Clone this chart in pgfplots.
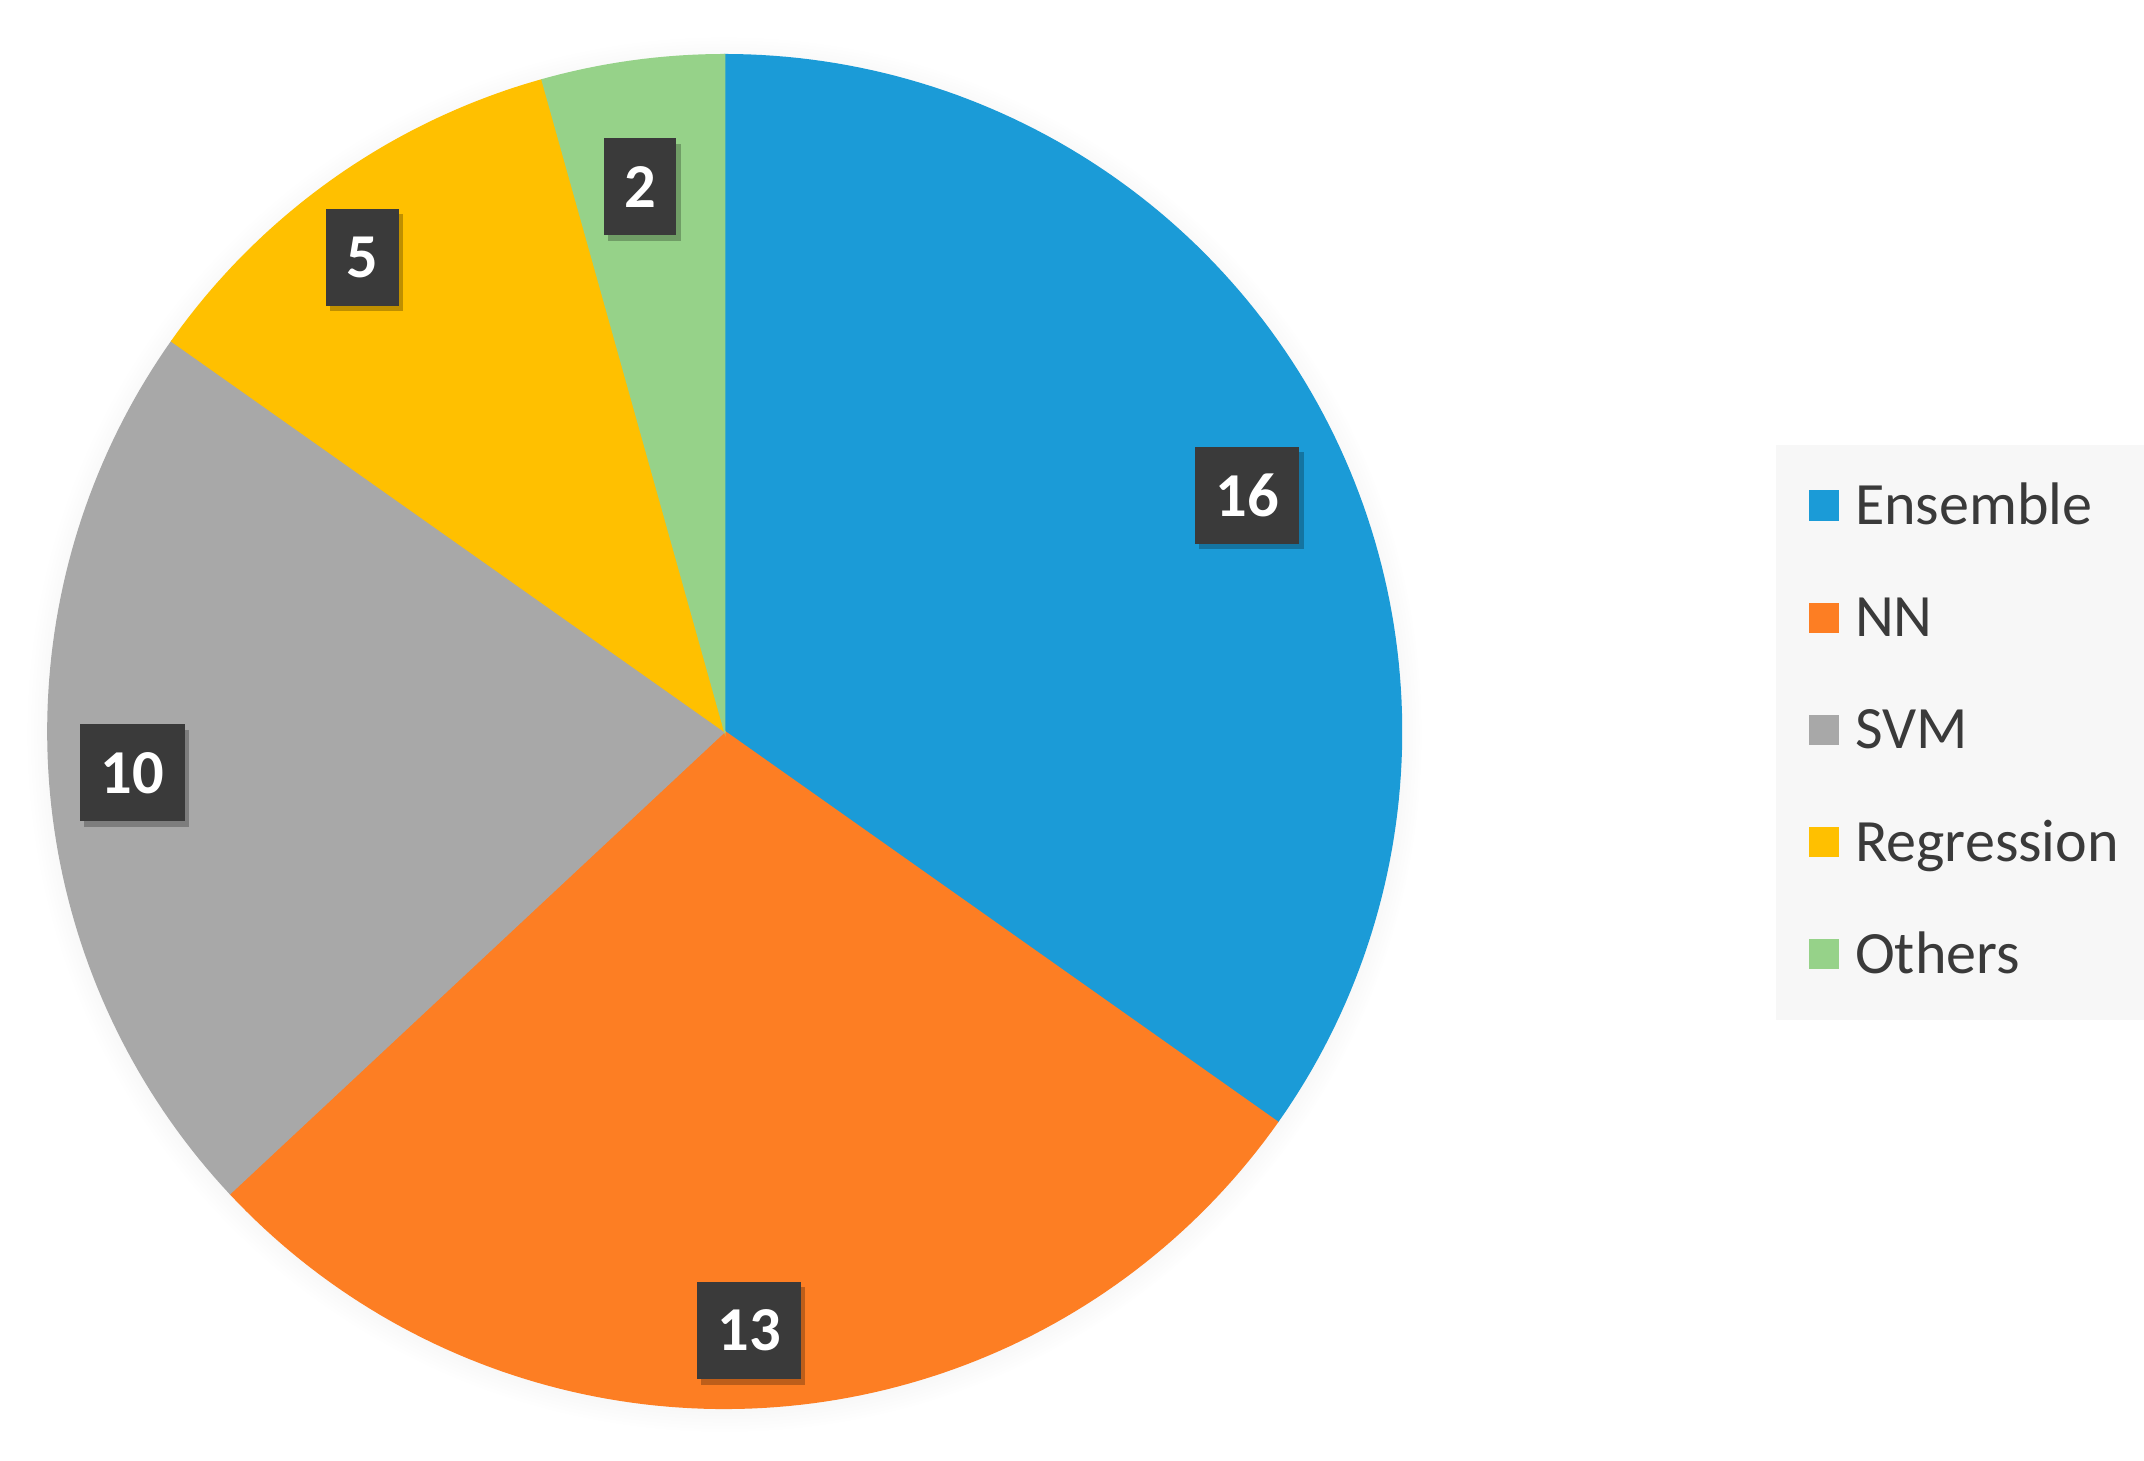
\documentclass[border=0pt]{standalone}
\usepackage{pgfplots}
\pgfplotsset{compat=1.18}
\usepackage{pgfplotstable}
\usepackage{fontspec}
\setmainfont{Carlito}
\usetikzlibrary{shadows}

\definecolor{cEns}{HTML}{1B9BD7}
\definecolor{cNN}{HTML}{FD7E23}
\definecolor{cSVM}{HTML}{A8A8A8}
\definecolor{cReg}{HTML}{FFC000}
\definecolor{cOth}{HTML}{96D289}
\definecolor{lblbox}{HTML}{3A3A3A}
\definecolor{legtext}{HTML}{3A3A3A}
\definecolor{legfill}{HTML}{F7F7F7}

\tikzset{labelbox/.style={fill=lblbox, text=white, font=\bfseries\fontsize{13}{15}\selectfont,
    inner xsep=0.15cm, minimum height=0.71cm,
    drop shadow={shadow xshift=0.03cm, shadow yshift=-0.04cm, opacity=0.25, fill=black}}}

\pgfplotstableread{
label value
Ensemble 16
NN 13
SVM 10
Regression 5
Others 2
}\piedata

\begin{document}
\begin{tikzpicture}
\useasboundingbox (0,0) rectangle (15.68cm,10.68cm);
\pgfplotstablegetelem{0}{value}\of\piedata \let\vA\pgfplotsretval
\pgfplotstablegetelem{1}{value}\of\piedata \let\vB\pgfplotsretval
\pgfplotstablegetelem{2}{value}\of\piedata \let\vC\pgfplotsretval
\pgfplotstablegetelem{3}{value}\of\piedata \let\vD\pgfplotsretval
\pgfplotstablegetelem{4}{value}\of\piedata \let\vE\pgfplotsretval
\pgfmathsetmacro\total{\vA+\vB+\vC+\vD+\vE}
\pgfmathsetmacro\aA{90}
\pgfmathsetmacro\aB{\aA-360*\vA/\total}
\pgfmathsetmacro\aC{\aB-360*\vB/\total}
\pgfmathsetmacro\aD{\aC-360*\vC/\total}
\pgfmathsetmacro\aE{\aD-360*\vD/\total}
\pgfmathsetmacro\aF{\aE-360*\vE/\total}
\begin{axis}[
  anchor=origin, at={(5.30cm,5.33cm)},
  x=4.95cm, y=4.95cm,
  xmin=-1.0707, xmax=2.0970, ymin=-1.0768, ymax=1.0808,
  hide axis, clip=false,
  legend cell align=left,
  legend style={at={(axis cs:1.5515,0.4242)}, anchor=north west,
    fill=legfill, draw=none, inner xsep=0.24cm, inner ysep=0.28cm,
    font=\fontsize{12.5}{14}\selectfont\color{legtext},
    row sep=0.46cm, column sep=0pt,
    nodes={inner xsep=0.12cm, inner ysep=0pt, text height=0.3cm, text depth=0.06cm}},
  legend image code/.code={\path[#1, draw=none] (0cm,-0.09cm) rectangle (0.22cm,0.13cm);},
]
\path[circular drop shadow={shadow xshift=0cm, shadow yshift=-0.02cm, shadow scale=1.03, opacity=0.25}] (axis cs:0,0) circle[radius=4.95cm];
\addplot[fill=cEns, draw=cEns, line width=0.3pt, domain=\aB:\aA, samples=120, variable=\t] ({cos(\t)},{sin(\t)}) -- (axis cs:0,0) -- cycle;
\addlegendentry{Ensemble}
\addplot[fill=cNN, draw=cNN, line width=0.3pt, domain=\aC:\aB, samples=100, variable=\t] ({cos(\t)},{sin(\t)}) -- (axis cs:0,0) -- cycle;
\addlegendentry{NN}
\addplot[fill=cSVM, draw=cSVM, line width=0.3pt, domain=\aD:\aC, samples=80, variable=\t] ({cos(\t)},{sin(\t)}) -- (axis cs:0,0) -- cycle;
\addlegendentry{SVM}
\addplot[fill=cReg, draw=cReg, line width=0.3pt, domain=\aE:\aD, samples=50, variable=\t] ({cos(\t)},{sin(\t)}) -- (axis cs:0,0) -- cycle;
\addlegendentry{Regression}
\addplot[fill=cOth, draw=cOth, line width=0.3pt, domain=\aF:\aE, samples=30, variable=\t] ({cos(\t)},{sin(\t)}) -- (axis cs:0,0) -- cycle;
\addlegendentry{Others}
\node[labelbox] at (axis cs:0.772,0.349) {\vA};
\node[labelbox] at (axis cs:0.036,-0.885) {\vB};
\node[labelbox] at (axis cs:-0.875,-0.061) {\vC};
\node[labelbox] at (axis cs:-0.535,0.701) {\vD};
\node[labelbox] at (axis cs:-0.125,0.805) {\vE};
\end{axis}
\end{tikzpicture}
\end{document}
